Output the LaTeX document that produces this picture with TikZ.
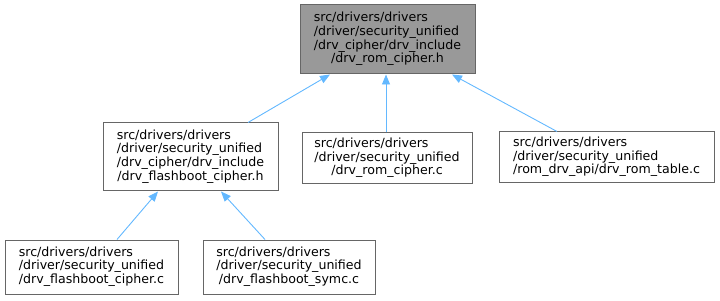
\documentclass[tikz,border=0pt]{standalone}
\usepackage{fontspec}
\setmainfont{DejaVu Sans}
\usetikzlibrary{arrows.meta}
\definecolor{edgeblue}{HTML}{63B8FF}
\definecolor{boxgray}{HTML}{666666}
\definecolor{topfill}{HTML}{999999}
\newcommand{\lbl}[2]{\begin{tabular}{@{}l@{}}#1\\\multicolumn{1}{@{}c@{}}{#2}\end{tabular}}
\begin{document}
\begin{tikzpicture}[x=1pt,y=1pt,
  box/.style={draw=boxgray,line width=1pt,rectangle,inner sep=0pt,
    font=\fontsize{12.6}{13.5}\selectfont},
  arr/.style={draw=edgeblue,line width=0.9pt,-{Triangle[length=10pt,width=8pt]}}]
\useasboundingbox (0,0) rectangle (720,300);
\node[box,fill=topfill,minimum width=175pt,minimum height=69pt] (top) at (387.5,260.5)
  {\lbl{src/drivers/drivers\\/driver/security\_unified\\/drv\_cipher/drv\_include}{/drv\_rom\_cipher.h}};
\node[box,minimum width=175pt,minimum height=68pt] (fbh) at (190.5,143)
  {\lbl{src/drivers/drivers\\/driver/security\_unified\\/drv\_cipher/drv\_include}{/drv\_flashboot\_cipher.h}};
\node[box,minimum width=170pt,minimum height=51pt] (romc) at (387,141.5)
  {\lbl{src/drivers/drivers\\/driver/security\_unified}{/drv\_rom\_cipher.c}};
\node[box,minimum width=215pt,minimum height=51pt] (table) at (606.5,142.5)
  {\lbl{src/drivers/drivers\\/driver/security\_unified}{/rom\_drv\_api/drv\_rom\_table.c}};
\node[box,minimum width=173pt,minimum height=54pt] (fbc) at (91.5,33)
  {\lbl{src/drivers/drivers\\/driver/security\_unified}{/drv\_flashboot\_cipher.c}};
\node[box,minimum width=172pt,minimum height=54pt] (sym) at (289,33)
  {\lbl{src/drivers/drivers\\/driver/security\_unified}{/drv\_flashboot\_symc.c}};
\draw[arr] ([xshift=57.5pt]fbh.north) -- ([xshift=-57.5pt]top.south);
\draw[arr] ([xshift=-1pt]romc.north) -- ([xshift=-1.5pt]top.south);
\draw[arr] ([xshift=-49.5pt]table.north) -- ([xshift=64.5pt]top.south);
\draw[arr] ([xshift=25.5pt]fbc.north) -- ([xshift=-32.5pt]fbh.south);
\draw[arr] ([xshift=-24pt]sym.north) -- ([xshift=30.5pt]fbh.south);
\end{tikzpicture}
\end{document}
